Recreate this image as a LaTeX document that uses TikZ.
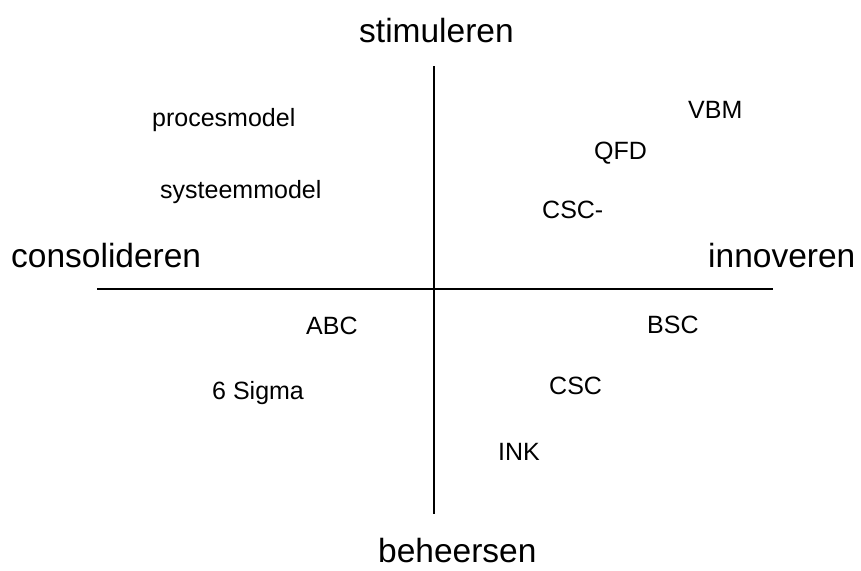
\documentclass[tikz,border=0pt]{standalone}
\usepackage{fontspec}
\setmainfont{Liberation Sans}
\begin{document}
\begin{tikzpicture}[x=1pt,y=-1pt,
  axislabel/.style={inner sep=0pt,anchor=base west,font=\fontsize{33.5}{40}\selectfont},
  method/.style={inner sep=0pt,anchor=base west,font=\fontsize{25}{30}\selectfont},
  axis/.style={line width=1.3pt,black}]
  \useasboundingbox[fill=white] (0,0) rectangle (861,570);

  % axis end points
  \coordinate (top) at (434,66);
  \coordinate (bottom) at (434,514);
  \coordinate (left) at (97,289);
  \coordinate (right) at (773,289);
  \draw[axis] (top) -- (bottom);
  \draw[axis] (left) -- (right);

  % pole labels
  \node[axislabel] (stim) at (359,42) {stimuleren};
  \node[axislabel] (cons) at (11,267) {consolideren};
  \node[axislabel] (inno) at (708,267) {innoveren};
  \node[axislabel] (beh) at (378,562) {beheersen};

  % methods per quadrant
  \node[method] (proc) at (152,126) {procesmodel};
  \node[method] (syst) at (160,198) {systeemmodel};
  \node[method] (vbm) at (688,118) {VBM};
  \node[method] (qfd) at (594,159) {QFD};
  \node[method] (cscm) at (542,218) {CSC-};
  \node[method] (abc) at (306,334) {ABC};
  \node[method] (bsc) at (647,333) {BSC};
  \node[method] (sigma) at (212,399) {6 Sigma};
  \node[method] (csc) at (549,394) {CSC};
  \node[method] (ink) at (498,460) {INK};
\end{tikzpicture}
\end{document}
